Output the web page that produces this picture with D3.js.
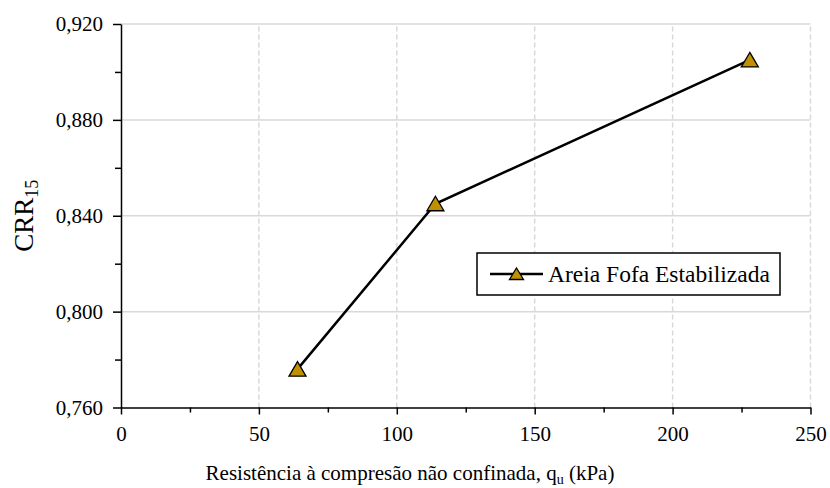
<!DOCTYPE html>
<html><head><meta charset="utf-8">
<script src="https://cdn.jsdelivr.net/npm/d3@7"></script>
<style>body{margin:0;background:#fff}svg{display:block}text{font-family:"Liberation Serif","Times New Roman",serif;fill:#000}</style>
</head><body>
<script>
const qu = [64, 114, 228];
const crr = [0.776, 0.845, 0.905];
const seriesName = "Areia Fofa Estabilizada";
const xTicks = [0, 50, 100, 150, 200, 250];
const xMinor = [25, 75, 125, 175, 225];
const yTicks = [0.760, 0.800, 0.840, 0.880, 0.920];
const yMinor = [0.780, 0.820, 0.860, 0.900];

const W = 830, H = 488;
const m = {l:121, r:19.5, t:24, b:80.5};
const svg = d3.select("body").append("svg").attr("width", W).attr("height", H);
const x = d3.scaleLinear().domain([0, 250]).range([m.l, W - m.r]);
const y = d3.scaleLinear().domain([0.76, 0.92]).range([H - m.b, m.t]);
const fmt = d => d3.format(".3f")(d).replace(".", ",");
const grid = "#d9d9d9";

svg.append("g").selectAll("line").data(yTicks.slice(1)).join("line")
  .attr("x1", x(0)).attr("x2", x(250)).attr("y1", d => y(d)).attr("y2", d => y(d))
  .attr("stroke", grid).attr("stroke-width", 1.5);
svg.append("g").selectAll("line").data(xTicks.slice(1)).join("line")
  .attr("x1", d => x(d)).attr("x2", d => x(d)).attr("y1", y(0.76)).attr("y2", y(0.92))
  .attr("stroke", grid).attr("stroke-width", 1.5).attr("stroke-dasharray", "5,3");

const xAxis = svg.append("g").attr("transform", `translate(0,${y(0.76)})`)
  .call(d3.axisBottom(x).tickValues(xTicks).tickSize(7).tickPadding(12).tickSizeOuter(0));
const xMin = svg.append("g").attr("transform", `translate(0,${y(0.76)})`)
  .call(d3.axisBottom(x).tickValues(xMinor).tickSize(5).tickFormat("").tickSizeOuter(0));
const yAxis = svg.append("g").attr("transform", `translate(${x(0)},0)`)
  .call(d3.axisLeft(y).tickValues(yTicks).tickFormat(fmt).tickSize(8).tickPadding(10).tickSizeOuter(0));
const yMin = svg.append("g").attr("transform", `translate(${x(0)},0)`)
  .call(d3.axisLeft(y).tickValues(yMinor).tickSize(6).tickFormat("").tickSizeOuter(0));
[xAxis, xMin, yAxis, yMin].forEach(g => {
  g.selectAll("path,line").attr("stroke", "#000").attr("stroke-width", 1.5);
  g.selectAll("text").style("font-size", "21px").style("font-family", "'Liberation Serif',serif");
});
xMin.select(".domain").remove(); yMin.select(".domain").remove();

const data = qu.map((q, i) => ({q, c: crr[i]}));
svg.append("path").datum(data)
  .attr("d", d3.line().x(d => x(d.q)).y(d => y(d.c)))
  .attr("fill", "none").attr("stroke", "#000").attr("stroke-width", 2.5);
const tri = "M0,-7.5L8.5,7L-8.5,7Z";
svg.append("g").selectAll("path").data(data).join("path")
  .attr("d", tri).attr("transform", d => `translate(${x(d.q)},${y(d.c)})`)
  .attr("fill", "#bf9000").attr("stroke", "#000").attr("stroke-width", 1.3);

const lg = svg.append("g");
lg.append("rect").attr("x", 477).attr("y", 253).attr("width", 303).attr("height", 42)
  .attr("fill", "#fff").attr("stroke", "#000").attr("stroke-width", 1.5);
lg.append("line").attr("x1", 490).attr("x2", 543).attr("y1", 274).attr("y2", 274)
  .attr("stroke", "#000").attr("stroke-width", 2.5);
lg.append("path").attr("d", "M0,-6L7,5.5L-7,5.5Z").attr("transform", "translate(516.5,274)")
  .attr("fill", "#bf9000").attr("stroke", "#000").attr("stroke-width", 1.3);
lg.append("text").attr("x", 548).attr("y", 282).style("font-size", "23.5px").text(seriesName);

const xt = svg.append("text").attr("x", 410).attr("y", 480).attr("text-anchor", "middle").style("font-size", "21px");
xt.append("tspan").text("Resistência à compresão não confinada, q");
xt.append("tspan").attr("dy", 4).style("font-size", "14px").text("u");
xt.append("tspan").attr("dy", -4).text(" (kPa)");

const yt = svg.append("text").attr("transform", `translate(33,${y(0.84)}) rotate(-90)`).attr("text-anchor", "middle").style("font-size", "27px");
yt.append("tspan").text("CRR");
yt.append("tspan").attr("dy", 5).style("font-size", "18px").text("15");
</script>
</body></html>
